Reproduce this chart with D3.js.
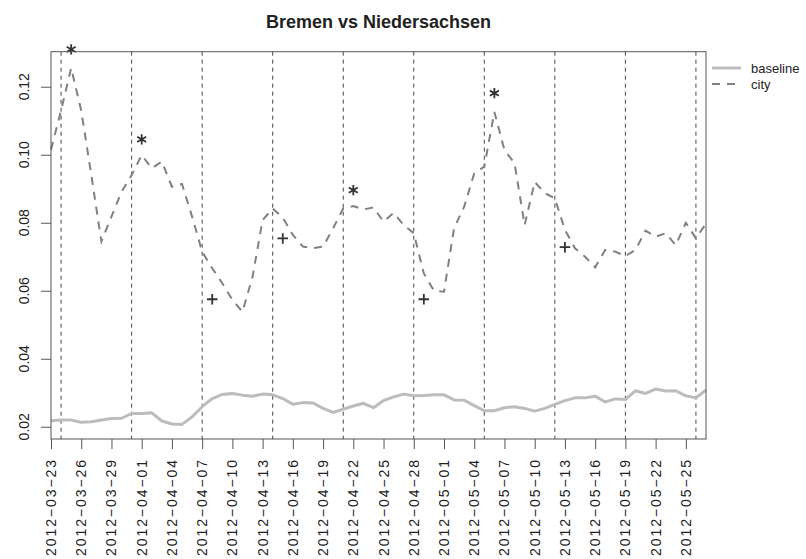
<!DOCTYPE html>
<html>
<head>
<meta charset="utf-8">
<title>Bremen vs Niedersachsen</title>
<script src="https://cdn.jsdelivr.net/npm/d3@7"></script>
<style>
  html, body { margin: 0; padding: 0; background: #fff; }
  svg { display: block; font-family: "Liberation Sans", Arial, Helvetica, sans-serif; }
</style>
</head>
<body>
<svg id="chart" width="806" height="559"></svg>
<script>
/* global d3 */

// Daily dates (x categories)
var DATES = [
  '2012-03-23', '2012-03-24', '2012-03-25', '2012-03-26', '2012-03-27', '2012-03-28', '2012-03-29',
  '2012-03-30', '2012-03-31', '2012-04-01', '2012-04-02', '2012-04-03', '2012-04-04', '2012-04-05',
  '2012-04-06', '2012-04-07', '2012-04-08', '2012-04-09', '2012-04-10', '2012-04-11', '2012-04-12',
  '2012-04-13', '2012-04-14', '2012-04-15', '2012-04-16', '2012-04-17', '2012-04-18', '2012-04-19',
  '2012-04-20', '2012-04-21', '2012-04-22', '2012-04-23', '2012-04-24', '2012-04-25', '2012-04-26',
  '2012-04-27', '2012-04-28', '2012-04-29', '2012-04-30', '2012-05-01', '2012-05-02', '2012-05-03',
  '2012-05-04', '2012-05-05', '2012-05-06', '2012-05-07', '2012-05-08', '2012-05-09', '2012-05-10',
  '2012-05-11', '2012-05-12', '2012-05-13', '2012-05-14', '2012-05-15', '2012-05-16', '2012-05-17',
  '2012-05-18', '2012-05-19', '2012-05-20', '2012-05-21', '2012-05-22', '2012-05-23', '2012-05-24',
  '2012-05-25', '2012-05-26', '2012-05-27'
];

var BASELINE = [
  0.0218, 0.0220, 0.0220, 0.0213, 0.0215, 0.0220, 0.0224, 0.0225, 0.0239, 0.0239, 0.0241,
  0.0217, 0.0208, 0.0207, 0.0229, 0.0259, 0.0283, 0.0295, 0.0298, 0.0293, 0.0290, 0.0296,
  0.0294, 0.0283, 0.0266, 0.0271, 0.0270, 0.0254, 0.0242, 0.0252, 0.0261, 0.0269, 0.0256,
  0.0277, 0.0288, 0.0296, 0.0291, 0.0292, 0.0294, 0.0294, 0.0279, 0.0278, 0.0262, 0.0247,
  0.0247, 0.0256, 0.0259, 0.0254, 0.0246, 0.0254, 0.0266, 0.0277, 0.0285, 0.0285, 0.0290,
  0.0273, 0.0282, 0.0280, 0.0306, 0.0298, 0.0311, 0.0305, 0.0306, 0.0291, 0.0285, 0.0308
];

var CITY = [
  0.1015, 0.1130, 0.1255, 0.1130, 0.0940, 0.0745, 0.0818, 0.0891, 0.0940, 0.0999, 0.0960,
  0.0980, 0.0906, 0.0914, 0.0818, 0.0715, 0.0666, 0.0622, 0.0573, 0.0538, 0.0641, 0.0808,
  0.0842, 0.0815, 0.0764, 0.0730, 0.0725, 0.0730, 0.0784, 0.0842, 0.0849, 0.0839, 0.0845,
  0.0803, 0.0829, 0.0793, 0.0769, 0.0651, 0.0600, 0.0597, 0.0784, 0.0847, 0.0945, 0.0965,
  0.1126, 0.1014, 0.0975, 0.0793, 0.0920, 0.0887, 0.0872, 0.0779, 0.0725, 0.0700, 0.0669,
  0.0720, 0.0715, 0.0702, 0.0720, 0.0777, 0.0759, 0.0769, 0.0734, 0.0800, 0.0754, 0.0798
];

// Peak markers (*) and trough markers (+)
var PEAK_DATES = ['2012-03-25', '2012-04-01', '2012-04-22', '2012-05-06'];
var PEAK_VALUES = [0.1310, 0.1045, 0.0896, 0.1181];
var TROUGH_DATES = ['2012-04-08', '2012-04-15', '2012-04-29', '2012-05-13'];
var TROUGH_VALUES = [0.0575, 0.0754, 0.0575, 0.0728];

// Weekly reference lines
var WEEK_LINES = [
  '2012-03-24', '2012-03-31', '2012-04-07', '2012-04-14', '2012-04-21',
  '2012-04-28', '2012-05-05', '2012-05-12', '2012-05-19', '2012-05-26'
];

var X_TICKS = [
  '2012-03-23', '2012-03-26', '2012-03-29', '2012-04-01', '2012-04-04', '2012-04-07',
  '2012-04-10', '2012-04-13', '2012-04-16', '2012-04-19', '2012-04-22', '2012-04-25',
  '2012-04-28', '2012-05-01', '2012-05-04', '2012-05-07', '2012-05-10', '2012-05-13',
  '2012-05-16', '2012-05-19', '2012-05-22', '2012-05-25'
];
var Y_TICKS = [0.02, 0.04, 0.06, 0.08, 0.10, 0.12];
var Y_DOMAIN = [0.0164, 0.1303];

var SERIES_NAMES = ['baseline', 'city'];

(function () {
  'use strict';

  var BASE_COLOR = '#bcbcbc';
  var CITY_COLOR = '#808080';
  var INK = '#333';
  var AXIS = '#555';

  var parse = d3.utcParse('%Y-%m-%d');
  var svg = d3.select('#chart');

  var plot = { left: 51, right: 706, top: 51.7, bottom: 439 };

  var x = d3.scaleUtc()
    .domain([parse(DATES[0]), parse(DATES[DATES.length - 1])])
    .range([plot.left, plot.right]);
  var y = d3.scaleLinear()
    .domain(Y_DOMAIN)
    .range([plot.bottom, plot.top]);

  // Title
  svg.append('text')
    .attr('x', (plot.left + plot.right) / 2)
    .attr('y', 28)
    .attr('text-anchor', 'middle')
    .attr('font-size', 18)
    .attr('font-weight', 'bold')
    .attr('fill', '#222')
    .text('Bremen vs Niedersachsen');

  // Weekly dashed verticals
  svg.append('g').selectAll('line')
    .data(WEEK_LINES)
    .join('line')
    .attr('x1', function (d) { return x(parse(d)); })
    .attr('x2', function (d) { return x(parse(d)); })
    .attr('y1', plot.top)
    .attr('y2', plot.bottom)
    .attr('stroke', '#444')
    .attr('stroke-width', 1)
    .attr('stroke-dasharray', '4,4');

  var line = d3.line()
    .x(function (d, i) { return x(parse(DATES[i])); })
    .y(function (d) { return y(d); });

  svg.append('path')
    .datum(BASELINE)
    .attr('d', line)
    .attr('fill', 'none')
    .attr('stroke', BASE_COLOR)
    .attr('stroke-width', 3)
    .attr('stroke-linejoin', 'round');

  svg.append('path')
    .datum(CITY)
    .attr('d', line)
    .attr('fill', 'none')
    .attr('stroke', CITY_COLOR)
    .attr('stroke-width', 2)
    .attr('stroke-dasharray', '8,7');

  // Markers
  svg.append('g').selectAll('path')
    .data(PEAK_DATES)
    .join('path')
    .attr('transform', function (d, i) {
      return 'translate(' + x(parse(d)) + ',' + y(PEAK_VALUES[i]) + ')';
    })
    .attr('d', d3.symbol(d3.symbolAsterisk, 75))
    .attr('fill', 'none')
    .attr('stroke', INK)
    .attr('stroke-width', 1.8);

  svg.append('g').selectAll('path')
    .data(TROUGH_DATES)
    .join('path')
    .attr('transform', function (d, i) {
      return 'translate(' + x(parse(d)) + ',' + y(TROUGH_VALUES[i]) + ')';
    })
    .attr('d', d3.symbol(d3.symbolPlus, 38))
    .attr('fill', 'none')
    .attr('stroke', INK)
    .attr('stroke-width', 1.8);

  // Box
  svg.append('rect')
    .attr('x', plot.left)
    .attr('y', plot.top)
    .attr('width', plot.right - plot.left)
    .attr('height', plot.bottom - plot.top)
    .attr('fill', 'none')
    .attr('stroke', AXIS)
    .attr('stroke-width', 1);

  // X axis
  var xAxis = d3.axisBottom(x)
    .tickValues(X_TICKS.map(parse))
    .tickSize(10)
    .tickFormat('');
  var gx = svg.append('g')
    .attr('transform', 'translate(0,' + plot.bottom + ')')
    .call(xAxis);
  gx.select('.domain').remove();
  gx.selectAll('.tick line').attr('stroke', AXIS);

  svg.append('g').selectAll('text')
    .data(X_TICKS)
    .join('text')
    .attr('transform', function (d) {
      return 'translate(' + (x(parse(d)) + 5) + ',460) rotate(-90)';
    })
    .attr('text-anchor', 'end')
    .attr('font-size', 14)
    .attr('fill', '#222')
    .attr('textLength', 96)
    .attr('lengthAdjust', 'spacing')
    .text(function (d) { return d.replace(/-/g, '\u2212'); });

  // Y axis
  var yAxis = d3.axisLeft(y)
    .tickValues(Y_TICKS)
    .tickSize(10)
    .tickFormat('');
  var gy = svg.append('g')
    .attr('transform', 'translate(' + plot.left + ',0)')
    .call(yAxis);
  gy.select('.domain').remove();
  gy.selectAll('.tick line').attr('stroke', AXIS);

  svg.append('g').selectAll('text')
    .data(Y_TICKS)
    .join('text')
    .attr('transform', function (d) {
      return 'translate(29,' + y(d) + ') rotate(-90)';
    })
    .attr('text-anchor', 'middle')
    .attr('font-size', 14)
    .attr('fill', '#222')
    .text(function (d) { return d3.format('.2f')(d); });

  // Legend
  var legend = svg.append('g');
  var legendY = [68, 84];
  legend.selectAll('line')
    .data(SERIES_NAMES)
    .join('line')
    .attr('x1', 712)
    .attr('x2', 741)
    .attr('y1', function (d, i) { return legendY[i]; })
    .attr('y2', function (d, i) { return legendY[i]; })
    .attr('stroke', function (d, i) { return i === 0 ? BASE_COLOR : CITY_COLOR; })
    .attr('stroke-width', function (d, i) { return i === 0 ? 3 : 2; })
    .attr('stroke-dasharray', function (d, i) { return i === 0 ? null : '8,7'; });
  legend.selectAll('text')
    .data(SERIES_NAMES)
    .join('text')
    .attr('x', 751)
    .attr('y', function (d, i) { return legendY[i] + 5; })
    .attr('font-size', 13)
    .attr('fill', '#222')
    .text(function (d) { return d; });
})();
</script>
</body>
</html>
